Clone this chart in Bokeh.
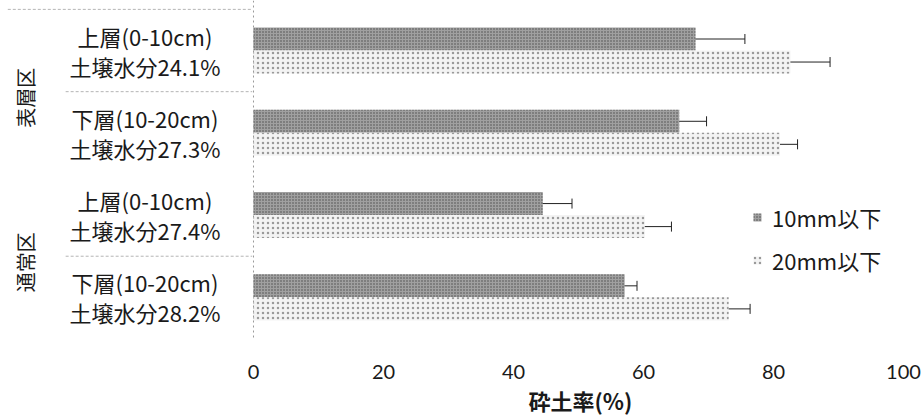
import numpy as np
from bokeh.plotting import figure
from bokeh.models import ColumnDataSource, Whisker, Span, FixedTicker, TeeHead, Range1d, Title
from bokeh.core.properties import value
from bokeh.embed import file_html
from bokeh.resources import INLINE

# ---------------- data ----------------
sites = ["表層区", "表層区", "通常区", "通常区"]
layers = ["上層(0-10cm)", "下層(10-20cm)", "上層(0-10cm)", "下層(10-20cm)"]
moisture = ["土壌水分24.1%", "土壌水分27.3%", "土壌水分27.4%", "土壌水分28.2%"]
series = ["10mm以下", "20mm以下"]
mean_10 = [68.0, 65.5, 44.5, 57.1]
err_10 = [7.6, 4.2, 4.5, 1.9]
mean_20 = [82.6, 81.0, 60.2, 73.1]
err_20 = [6.1, 2.7, 4.1, 3.3]
x_ticks = [0, 20, 40, 60, 80, 100]
x_title = "砕土率(%)"

CJK = "Noto Sans CJK JP"

n = len(layers)
ypos = [n - i - 0.5 for i in range(n)]
off = 0.14
bar_h = 0.28

src10 = ColumnDataSource(dict(
    y=[v + off for v in ypos], x=mean_10,
    lo=[m - e for m, e in zip(mean_10, err_10)],
    hi=[m + e for m, e in zip(mean_10, err_10)]))
src20 = ColumnDataSource(dict(
    y=[v - off for v in ypos], x=mean_20,
    lo=[m - e for m, e in zip(mean_20, err_20)],
    hi=[m + e for m, e in zip(mean_20, err_20)]))

p = figure(width=923, height=417, output_backend="svg", toolbar_location=None,
           x_range=Range1d(-253 / 6.5, 100 + 20 / 6.5), y_range=Range1d(0, 4.108),
           y_axis_location=None, min_border_left=0, min_border_right=0,
           min_border_top=0, min_border_bottom=79)
p.outline_line_color = None
p.xgrid.visible = False
p.ygrid.visible = False
p.background_fill_color = "white"

# bars
r10 = p.hbar(y="y", right="x", left=0, height=bar_h, source=src10,
             fill_color="#a0a0a0", line_color=None,
             hatch_pattern="dot", hatch_color="#4a4a4a", hatch_scale=3, hatch_weight=1,
             legend_label=series[0])
r20 = p.hbar(y="y", right="x", left=0, height=bar_h, source=src20,
             fill_color="#f3f3f3", line_color=None,
             hatch_pattern="dot", hatch_color="#9a9a9a", hatch_scale=5, hatch_weight=1,
             legend_label=series[1])

for s in (src10, src20):
    w = Whisker(source=s, base="y", lower="lo", upper="hi", dimension="width",
                line_color="#222222", line_width=1,
                lower_head=TeeHead(size=10, line_color="#222222", line_width=1),
                upper_head=TeeHead(size=10, line_color="#222222", line_width=1))
    p.add_layout(w)

# vertical axis line at 0
p.add_layout(Span(location=0, dimension="height", line_color="#9a9a9a",
                  line_dash="2 3", line_width=1))

# separators on the category side
sep_y = [float(n), float(n - 1), 1.0]
sep_x0 = [-37.8, -28.9, -28.9]
p.segment(x0=sep_x0, y0=sep_y, x1=[-0.2] * 3, y1=sep_y,
          line_color="#b5b5b5", line_width=1, line_dash="3 2")

# category labels
p.text(x=[-16.7] * n, y=ypos, text=layers, text_align="center", text_baseline="middle",
       y_offset=-15, text_font=value(CJK), text_font_size="22px", text_color="#1a1a1a")
p.text(x=[-16.7] * n, y=ypos, text=moisture, text_align="center", text_baseline="middle",
       y_offset=15, text_font=value(CJK), text_font_size="22px", text_color="#1a1a1a")

# group labels (vertical)
groups = []
for i, s in enumerate(sites):
    if s not in [g[0] for g in groups]:
        groups.append([s, []])
    for g in groups:
        if g[0] == s:
            g[1].append(ypos[i])
gy = [float(np.mean(g[1])) for g in groups]
p.text(x=[-35.1] * len(groups), y=gy, text=[g[0] for g in groups], angle=np.pi / 2,
       text_align="center", text_baseline="middle", y_offset=6,
       text_font=value(CJK), text_font_size="20px", text_color="#1a1a1a")

# x axis
ax = p.xaxis[0]
ax.ticker = FixedTicker(ticks=x_ticks)
ax.axis_line_color = None
ax.major_tick_line_color = None
ax.minor_tick_line_color = None
ax.major_label_standoff = 20
ax.major_label_text_font = "Lato"
ax.major_label_text_font_size = "20px"
ax.major_label_text_color = "#1a1a1a"

p.add_layout(Title(text=x_title, align="left", offset=528, standoff=0,
                   text_font=CJK, text_font_size="22px", text_font_style="bold",
                   text_color="#1a1a1a"), "below")

# legend
lg = p.legend[0]
lg.location = (752, 62)
lg.border_line_color = None
lg.background_fill_alpha = 0
lg.padding = 0
lg.margin = 0
lg.spacing = 11
lg.glyph_width = 10
lg.glyph_height = 10
lg.label_standoff = 10
lg.label_text_font = CJK
lg.label_text_font_size = "22px"
lg.label_text_color = "#1a1a1a"

open("out.html", "w").write(file_html(p, INLINE))
